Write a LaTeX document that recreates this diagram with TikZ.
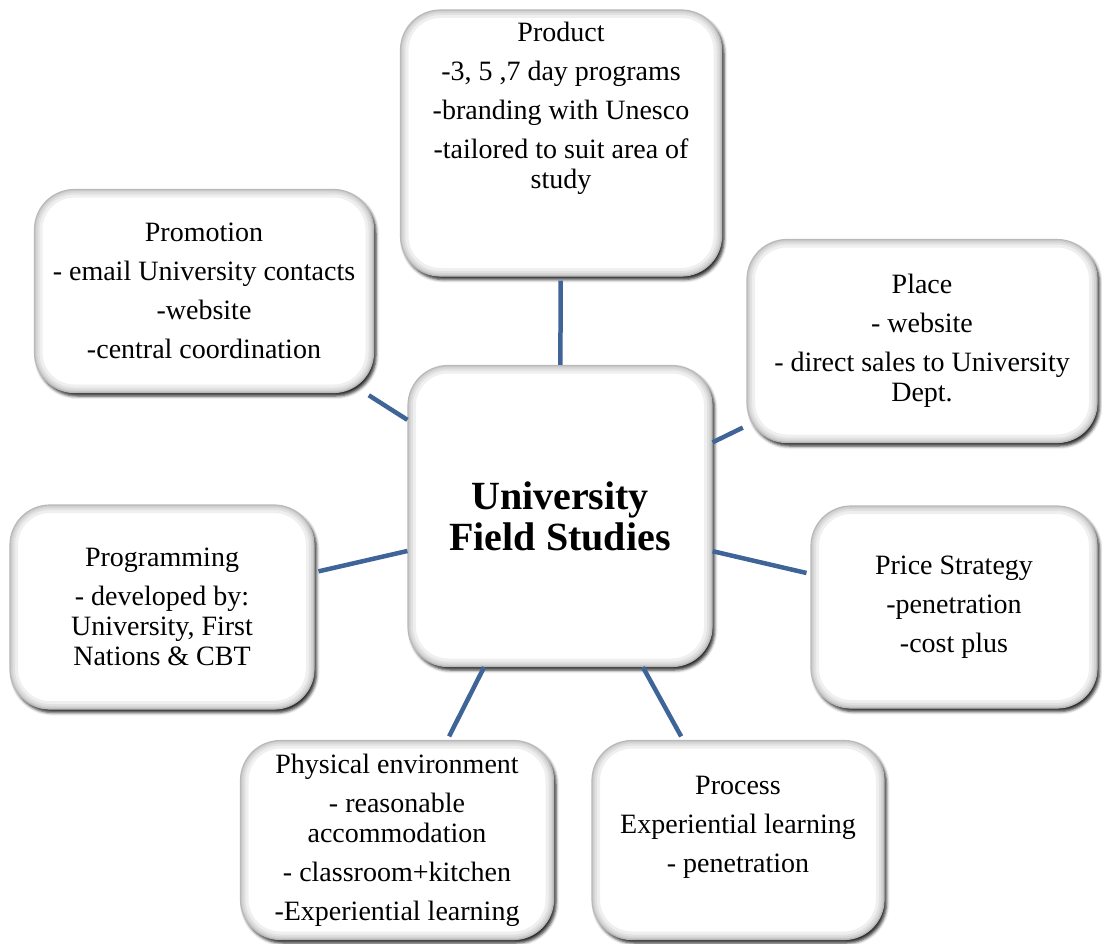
\documentclass[tikz,border=0pt]{standalone}
\usepackage{fontspec}
\setmainfont{Liberation Serif}
\usetikzlibrary{shadows.blur}
\definecolor{linkblue}{RGB}{63,101,152}

\begin{document}
\begin{tikzpicture}[x=1pt, y=-1pt, thick,
    main/.style = {draw=gray!55, line width=1.2pt, fill=white, rounded corners=40pt, align=center,
        font=\fontsize{28}{30}\selectfont, inner sep=3pt,
        blur shadow={shadow xshift=2.5pt, shadow yshift=-3.5pt, shadow blur radius=3pt, shadow opacity=85},
        path picture={\foreach \w in {16,10,6,3}
            \draw[gray, opacity=0.12, line width=\w pt, rounded corners=40pt]
                (path picture bounding box.south west) rectangle (path picture bounding box.north east);}},
    link/.style = {draw=linkblue, line width=4.5pt, shorten >=4pt}]
    \useasboundingbox (0,0) rectangle (1102,944);

    \node[main, minimum width=304pt, minimum height=301pt, font=\fontsize{40}{41}\selectfont\bfseries] (c) at (560,516) {University\\Field Studies};

    \node[main, minimum width=321pt, minimum height=266pt] (prod) at (561,143) {Product\\[9pt]-3, 5 ,7 day programs\\[9pt]-branding with Unesco\\[9pt]-tailored to suit area of\\study\\[46pt]\mbox{}};
    \node[main, minimum width=339pt, minimum height=203pt] (prom) at (204,291) {Promotion\\[9pt]- email University contacts\\[9pt]-website\\[9pt]-central coordination};
    \node[main, minimum width=350pt, minimum height=203pt] (plac) at (922,341) {Place\\[9pt]- website\\[9pt]- direct sales to University\\Dept.};
    \node[main, minimum width=304pt, minimum height=204pt] (prog) at (162,607) {Programming\\[9pt]- developed by:\\University, First\\Nations \& CBT};
    \node[main, minimum width=286pt, minimum height=202pt] (pric) at (954,607) {Price Strategy\\[9pt]-penetration\\[9pt]-cost plus};
    \node[main, minimum width=313pt, minimum height=199pt] (phys) at (397,840) {Physical environment\\[9pt]- reasonable\\accommodation\\[9pt]- classroom+kitchen\\[9pt]-Experiential learning};
    \node[main, minimum width=292pt, minimum height=199pt] (proc) at (738,840) {Process\\[9pt]Experiential learning\\[9pt]- penetration\\[2pt]\mbox{}};

    \draw[link] (c) -- (prod);
    \draw[link] (c) -- (prom);
    \draw[link] (c) -- (plac);
    \draw[link] (c) -- (prog);
    \draw[link] (c) -- (pric);
    \draw[link] (c) -- (phys);
    \draw[link] (c) -- (proc);

\end{tikzpicture}
\end{document}
